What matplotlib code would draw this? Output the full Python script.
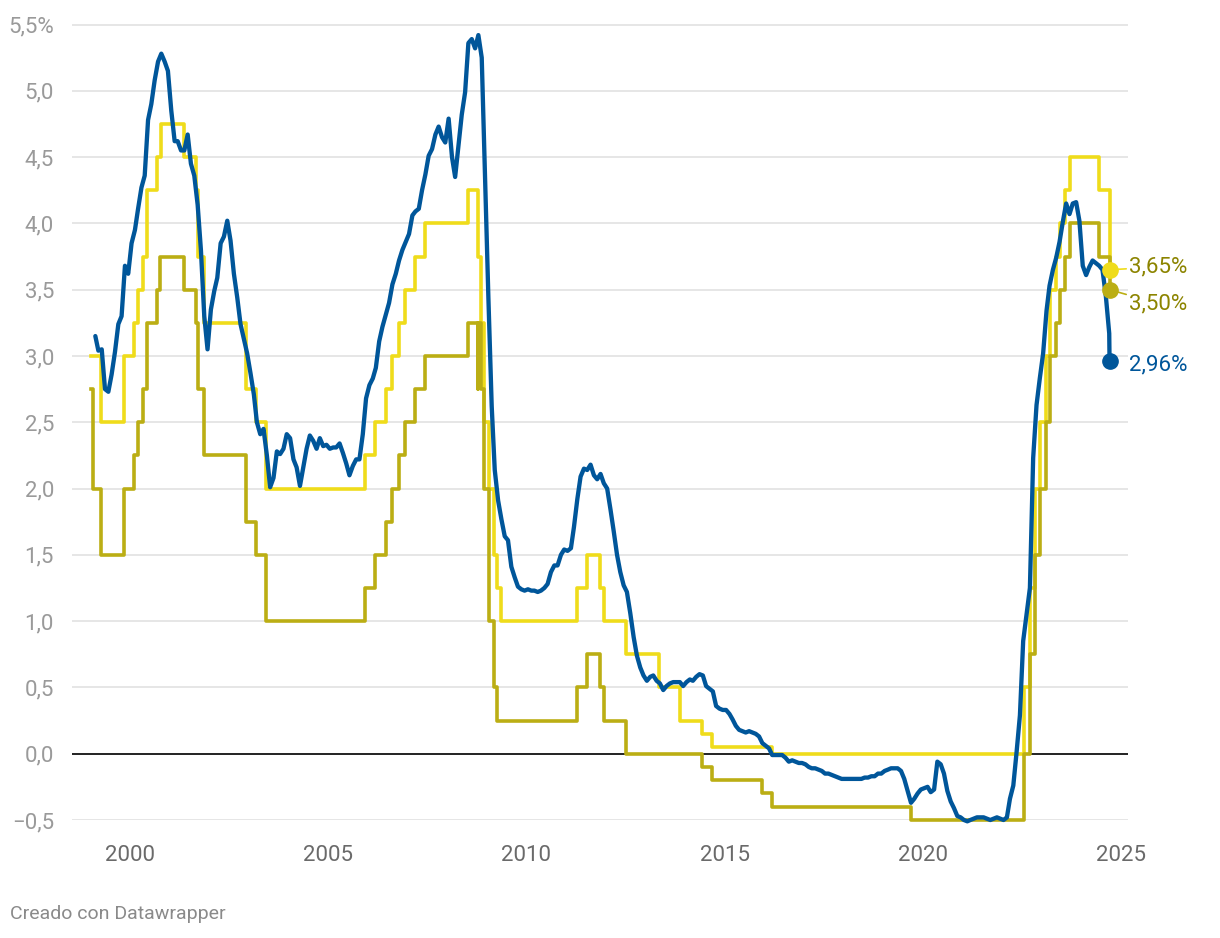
import pandas as pd
import matplotlib
matplotlib.use("Agg")
import matplotlib.pyplot as plt
from matplotlib.ticker import FixedLocator, FuncFormatter

plt.rcParams['font.family'] = ['Roboto', 'DejaVu Sans']

# Euribor a 12 meses, medias mensuales (ene 1999 - ago 2024) + último dato
euribor_start = "1999-01-15"
euribor = [
    3.15, 3.04, 3.05, 2.75, 2.73, 2.86, 3.03, 3.24, 3.30, 3.68, 3.62, 3.85,   # 1999
    3.95, 4.11, 4.27, 4.36, 4.78, 4.90, 5.08, 5.22, 5.28, 5.22, 5.15, 4.85,   # 2000
    4.62, 4.62, 4.55, 4.55, 4.67, 4.45, 4.36, 4.14, 3.80, 3.30, 3.05, 3.35,   # 2001
    3.49, 3.59, 3.85, 3.90, 4.02, 3.87, 3.62, 3.44, 3.24, 3.13, 3.02, 2.87,   # 2002
    2.71, 2.50, 2.41, 2.45, 2.25, 2.01, 2.08, 2.28, 2.26, 2.30, 2.41, 2.38,   # 2003
    2.22, 2.16, 2.02, 2.16, 2.30, 2.40, 2.36, 2.30, 2.38, 2.32, 2.33, 2.30,   # 2004
    2.31, 2.31, 2.34, 2.27, 2.19, 2.10, 2.17, 2.22, 2.22, 2.41, 2.68, 2.78,   # 2005
    2.83, 2.91, 3.11, 3.22, 3.31, 3.40, 3.54, 3.62, 3.72, 3.80, 3.86, 3.92,   # 2006
    4.06, 4.09, 4.11, 4.25, 4.37, 4.51, 4.56, 4.67, 4.73, 4.65, 4.61, 4.79,   # 2007
    4.50, 4.35, 4.59, 4.82, 4.99, 5.36, 5.39, 5.32, 5.42, 5.25, 4.35, 3.45,   # 2008
    2.62, 2.14, 1.91, 1.77, 1.64, 1.61, 1.41, 1.33, 1.26, 1.24, 1.23, 1.24,   # 2009
    1.23, 1.23, 1.22, 1.23, 1.25, 1.28, 1.37, 1.42, 1.42, 1.50, 1.54, 1.53,   # 2010
    1.55, 1.71, 1.92, 2.09, 2.15, 2.14, 2.18, 2.10, 2.07, 2.11, 2.04, 2.00,   # 2011
    1.84, 1.68, 1.50, 1.37, 1.27, 1.22, 1.06, 0.88, 0.74, 0.65, 0.59, 0.55,   # 2012
    0.58, 0.59, 0.55, 0.53, 0.48, 0.51, 0.53, 0.54, 0.54, 0.54, 0.51, 0.54,   # 2013
    0.56, 0.55, 0.58, 0.60, 0.59, 0.51, 0.49, 0.47, 0.36, 0.34, 0.33, 0.33,   # 2014
    0.30, 0.26, 0.21, 0.18, 0.17, 0.16, 0.17, 0.16, 0.15, 0.13, 0.08, 0.06,   # 2015
    0.04, -0.01, -0.01, -0.01, -0.01, -0.03, -0.06, -0.05, -0.06, -0.07, -0.07, -0.08,  # 2016
    -0.10, -0.11, -0.11, -0.12, -0.13, -0.15, -0.15, -0.16, -0.17, -0.18, -0.19, -0.19,  # 2017
    -0.19, -0.19, -0.19, -0.19, -0.19, -0.18, -0.18, -0.17, -0.17, -0.15, -0.15, -0.13,  # 2018
    -0.12, -0.11, -0.11, -0.11, -0.13, -0.19, -0.28, -0.37, -0.34, -0.30, -0.27, -0.26,  # 2019
    -0.25, -0.29, -0.27, -0.06, -0.08, -0.15, -0.28, -0.36, -0.41, -0.47, -0.48, -0.50,  # 2020
    -0.51, -0.50, -0.49, -0.48, -0.48, -0.48, -0.49, -0.50, -0.49, -0.48, -0.49, -0.50,  # 2021
    -0.48, -0.34, -0.24, 0.01, 0.29, 0.85, 1.05, 1.25, 2.23, 2.63, 2.83, 3.02,   # 2022
    3.34, 3.53, 3.65, 3.74, 3.86, 4.01, 4.15, 4.07, 4.15, 4.16, 4.02, 3.68,   # 2023
    3.61, 3.67, 3.72, 3.70, 3.68, 3.65, 3.45, 3.17,                            # 2024
]
end_date = "2024-09-18"
euribor_last = 2.96

# Tipo de las operaciones principales de financiación (BCE)
mro_dates = [
    "1999-01-04", "1999-04-09", "1999-11-05", "2000-02-04", "2000-03-17", "2000-04-28",
    "2000-06-09", "2000-09-06", "2000-10-11", "2001-05-11", "2001-08-31", "2001-09-18",
    "2001-11-09", "2002-12-06", "2003-03-07", "2003-06-06", "2005-12-06", "2006-03-08",
    "2006-06-15", "2006-08-09", "2006-10-11", "2006-12-13", "2007-03-14", "2007-06-13",
    "2008-07-09", "2008-10-15", "2008-11-12", "2008-12-10", "2009-01-21", "2009-03-11",
    "2009-04-08", "2009-05-13", "2011-04-13", "2011-07-13", "2011-11-09", "2011-12-14",
    "2012-07-11", "2013-05-08", "2013-11-13", "2014-06-11", "2014-09-10", "2016-03-16",
    "2022-07-27", "2022-09-14", "2022-11-02", "2022-12-21", "2023-02-08", "2023-03-22",
    "2023-05-10", "2023-06-21", "2023-08-02", "2023-09-20", "2024-06-12", "2024-09-18",
]
mro = [
    3.00, 2.50, 3.00, 3.25, 3.50, 3.75,
    4.25, 4.50, 4.75, 4.50, 4.25, 3.75,
    3.25, 2.75, 2.50, 2.00, 2.25, 2.50,
    2.75, 3.00, 3.25, 3.50, 3.75, 4.00,
    4.25, 3.75, 3.25, 2.50, 2.00, 1.50,
    1.25, 1.00, 1.25, 1.50, 1.25, 1.00,
    0.75, 0.50, 0.25, 0.15, 0.05, 0.00,
    0.50, 1.25, 2.00, 2.50, 3.00, 3.50,
    3.75, 4.00, 4.25, 4.50, 4.25, 3.65,
]

# Facilidad de depósito (BCE)
dep_dates = [
    "1999-01-04", "1999-01-22", "1999-04-09", "1999-11-05", "2000-02-04", "2000-03-17",
    "2000-04-28", "2000-06-09", "2000-09-01", "2000-10-06", "2001-05-11", "2001-08-31",
    "2001-09-18", "2001-11-09", "2002-12-06", "2003-03-07", "2003-06-06", "2005-12-06",
    "2006-03-08", "2006-06-15", "2006-08-09", "2006-10-11", "2006-12-13", "2007-03-14",
    "2007-06-13", "2008-07-09", "2008-10-08", "2008-10-09", "2008-11-12", "2008-12-10",
    "2009-01-21", "2009-03-11", "2009-04-08", "2011-04-13", "2011-07-13", "2011-11-09",
    "2011-12-14", "2012-07-11", "2014-06-11", "2014-09-10", "2015-12-09", "2016-03-16",
    "2019-09-18", "2022-07-27", "2022-09-14", "2022-11-02", "2022-12-21", "2023-02-08",
    "2023-03-22", "2023-05-10", "2023-06-21", "2023-08-02", "2023-09-20", "2024-06-12",
    "2024-09-18",
]
dep = [
    2.75, 2.00, 1.50, 2.00, 2.25, 2.50,
    2.75, 3.25, 3.50, 3.75, 3.50, 3.25,
    2.75, 2.25, 1.75, 1.50, 1.00, 1.25,
    1.50, 1.75, 2.00, 2.25, 2.50, 2.75,
    3.00, 3.25, 2.75, 3.25, 2.75, 2.00,
    1.00, 0.50, 0.25, 0.50, 0.75, 0.50,
    0.25, 0.00, -0.10, -0.20, -0.30, -0.40,
    -0.50, 0.00, 0.75, 1.50, 2.00, 2.50,
    3.00, 3.25, 3.50, 3.75, 4.00, 3.75,
    3.50,
]

y_ticks = [-0.5, 0.0, 0.5, 1.0, 1.5, 2.0, 2.5, 3.0, 3.5, 4.0, 4.5, 5.0, 5.5]
x_ticks = [2000, 2005, 2010, 2015, 2020, 2025]

BLUE = "#00569a"
YELLOW = "#efdc1b"
OLIVE = "#bbae14"
OLIVE_TEXT = "#8c8400"

# series
eur_x = list(pd.date_range(euribor_start, periods=len(euribor), freq="MS") + pd.Timedelta(days=14))
eur_x.append(pd.Timestamp(end_date))
eur_y = euribor + [euribor_last]

mro_x = pd.to_datetime(mro_dates)
dep_x = pd.to_datetime(dep_dates)

fig = plt.figure(figsize=(12.2, 9.38), dpi=100)
ax = fig.add_axes([72 / 1220, 1 - 820 / 938, (1128 - 72) / 1220, (820 - 24.5) / 938])

for t in y_ticks:
    if t == 0:
        continue
    ax.axhline(t, color="#e2e2e2", lw=1.2, zorder=0)
ax.axhline(0, color="#111111", lw=1.3, zorder=1)

ax.step(mro_x, mro, where="post", color=YELLOW, lw=2.6, zorder=3, clip_on=False)
ax.step(dep_x, dep, where="post", color=OLIVE, lw=2.6, zorder=4, clip_on=False)
ax.plot(eur_x, eur_y, color=BLUE, lw=3.1, zorder=5, clip_on=False,
        solid_joinstyle="round", solid_capstyle="round")

end = pd.Timestamp(end_date)
ax.plot([end], [mro[-1]], "o", color=YELLOW, ms=11, zorder=6, clip_on=False)
ax.plot([end], [dep[-1]], "o", color=OLIVE, ms=11, zorder=6, clip_on=False)
ax.plot([end], [euribor_last], "o", color=BLUE, ms=11, zorder=7, clip_on=False)

def fmt_pct(v):
    return "{:.2f}%".format(v).replace(".", ",")

ax.annotate(fmt_pct(mro[-1]), xy=(end, mro[-1]), xytext=(14, 2), textcoords="offset points",
            ha="left", va="center", fontsize=16, color=OLIVE_TEXT,
            arrowprops=dict(arrowstyle="-", color=YELLOW, lw=1.2, shrinkA=0, shrinkB=3))
ax.annotate(fmt_pct(dep[-1]), xy=(end, dep[-1]), xytext=(14, -10), textcoords="offset points",
            ha="left", va="center", fontsize=16, color=OLIVE_TEXT,
            arrowprops=dict(arrowstyle="-", color=OLIVE, lw=1.2, shrinkA=0, shrinkB=3))
ax.annotate(fmt_pct(euribor_last), xy=(end, euribor_last), xytext=(14, -3), textcoords="offset points",
            ha="left", va="center", fontsize=16, color=BLUE)

ax.set_xlim(pd.Timestamp("1998-07-15"), pd.Timestamp("2025-03-07"))
ax.set_ylim(-0.5, 5.5)

ax.yaxis.set_major_locator(FixedLocator(y_ticks))
ax.yaxis.set_major_formatter(FuncFormatter(
    lambda v, p: ("{:.1f}".format(v).replace(".", ",").replace("-", "\u2212")) + ("%" if v == 5.5 else "")))
ax.set_xticks([pd.Timestamp("{}-01-01".format(y)) for y in x_ticks])
ax.set_xticklabels([str(y) for y in x_ticks])

ax.tick_params(axis="y", length=0, pad=13, labelsize=16, labelcolor="#9a9a9a")
ax.tick_params(axis="x", length=0, pad=18, labelsize=16, labelcolor="#6a6a6a")
for s in ax.spines.values():
    s.set_visible(False)
ax.set_facecolor("none")

fig.text(10 / 1220, 1 - 914 / 938, "Creado con Datawrapper", ha="left", va="center",
         fontsize=14, color="#8a8a8a")

fig.savefig("out.png", dpi=100)
